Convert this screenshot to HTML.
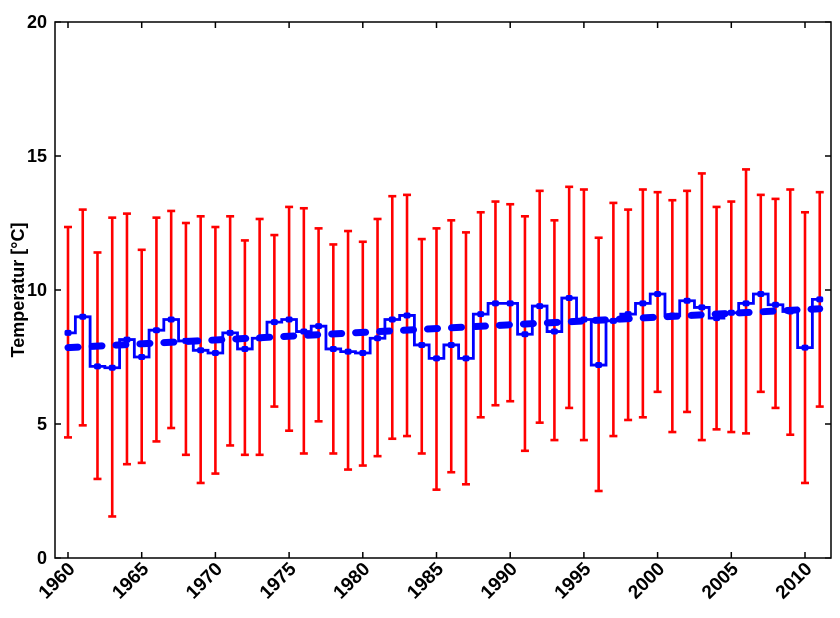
<!DOCTYPE html>
<html><head><meta charset="utf-8"><style>
body{margin:0;background:#fff;}
svg text{font-family:"Liberation Sans",sans-serif;font-weight:bold;fill:#000;}
</style></head><body>
<svg id="chart" width="840" height="613" xmlns="http://www.w3.org/2000/svg">
</svg>
<script>
const years=[];for(let y=1960;y<=2011;y++)years.push(y);
const meanVals=[8.4,9.0,7.15,7.1,8.15,7.5,8.5,8.9,8.1,7.75,7.65,8.4,7.8,8.2,8.8,8.9,8.45,8.65,7.8,7.7,7.65,8.2,8.9,9.05,7.95,7.45,7.95,7.45,9.1,9.5,9.5,8.35,9.4,8.45,9.7,8.9,7.2,8.85,9.1,9.5,9.85,9.05,9.6,9.35,8.95,9.15,9.5,9.85,9.45,9.2,7.85,9.65];
const maxVals=[12.35,13.0,11.4,12.7,12.85,11.5,12.7,12.95,12.5,12.75,12.35,12.75,11.85,12.65,12.05,13.1,13.05,12.3,11.7,12.2,11.8,12.65,13.5,13.55,11.9,12.3,12.6,12.15,12.9,13.3,13.2,12.75,13.7,12.6,13.85,13.75,11.95,13.25,13.0,13.75,13.65,13.35,13.7,14.35,13.1,13.3,14.5,13.55,13.4,13.75,12.9,13.65];
const minVals=[4.5,4.95,2.95,1.55,3.5,3.55,4.35,4.85,3.85,2.8,3.15,4.2,3.85,3.85,5.65,4.75,3.9,5.1,3.9,3.3,3.45,3.8,4.45,4.55,3.9,2.55,3.2,2.75,5.25,5.7,5.85,4.0,5.05,4.4,5.6,4.4,2.5,4.55,5.15,5.25,6.2,4.7,5.45,4.4,4.8,4.7,4.65,6.2,5.6,4.6,2.8,5.65];
const trendStart=[1960,7.85];
const trendEnd=[2011,9.3];
const yTicks=[0,5,10,15,20];
const xTicks=[1960,1965,1970,1975,1980,1985,1990,1995,2000,2005,2010];

const L=55,R=831,T=22,B=558;
const X=v=>68+(v-1960)*(805-68)/50;
const Y=v=>B-(v)*(B-T)/20;
const svg=document.getElementById('chart');
const NS='http://www.w3.org/2000/svg';
function mk(tag,attrs,parent){const e=document.createElementNS(NS,tag);for(const k in attrs)e.setAttribute(k,attrs[k]);(parent||svg).appendChild(e);return e;}

const eb=mk('g',{});


years.forEach((yr,i)=>{
  const x=X(yr);
  const g=mk('g',{stroke:'#f00','stroke-width':2.6,fill:'none'},eb);
  
  
  mk('line',{x1:x,x2:x,y1:Y(maxVals[i]),y2:Y(minVals[i])},g);
  mk('line',{x1:x-4,x2:x+4,y1:Y(maxVals[i]),y2:Y(maxVals[i])},g);
  mk('line',{x1:x-4,x2:x+4,y1:Y(minVals[i]),y2:Y(minVals[i])},g);
});

const tr=mk('line',{x1:X(trendStart[0]),y1:Y(trendStart[1]),x2:X(trendEnd[0]),y2:Y(trendEnd[1]),stroke:'#00f','stroke-width':7,'stroke-dasharray':'10 14','stroke-linecap':'round'});



let d='';
years.forEach((yr,i)=>{
  const x0=i===0?X(yr):X(yr-0.5), x1=i===years.length-1?X(yr):X(yr+0.5);
  const y=Y(meanVals[i]);
  d+=(i===0?'M':'L')+x0+','+y+'L'+x1+','+y;
});
const st=mk('path',{d:d,stroke:'#00f','stroke-width':2.8,fill:'none'});


const mg=mk('g',{fill:'#00f'});


years.forEach((yr,i)=>{
  const m=mk('rect',{x:X(yr)-3.5,y:Y(meanVals[i])-3,width:7,height:6,rx:2},mg);
  
  
});

const fr=mk('rect',{x:L,y:T,width:R-L,height:B-T,fill:'none',stroke:'#000','stroke-width':1.5});



const ya=mk('g',{});


yTicks.forEach(v=>{
  const y=Y(v);
  mk('line',{x1:L,x2:L+6,y1:y,y2:y,stroke:'#000','stroke-width':1.5},ya);
  mk('line',{x1:R-6,x2:R,y1:y,y2:y,stroke:'#000','stroke-width':1.5},ya);
  const t=mk('text',{x:L-8,y:y+6,'text-anchor':'end','font-size':18},ya);
  t.textContent=v;
  
  
});
const xa=mk('g',{});


xTicks.forEach(v=>{
  const x=X(v);
  mk('line',{x1:x,x2:x,y1:B,y2:B-6,stroke:'#000','stroke-width':1.5},xa);
  mk('line',{x1:x,x2:x,y1:T,y2:T+6,stroke:'#000','stroke-width':1.5},xa);
  const t=mk('text',{x:x+8,y:B+12,'text-anchor':'end','font-size':19,transform:'rotate(-45 '+(x+8)+' '+(B+12)+')'},xa);
  t.textContent=v;
  
  
});
const yt=mk('text',{x:24,y:290,'text-anchor':'middle','font-size':18,transform:'rotate(-90 24 290)'});
yt.textContent='Temperatur [°C]';


</script>
</body></html>
